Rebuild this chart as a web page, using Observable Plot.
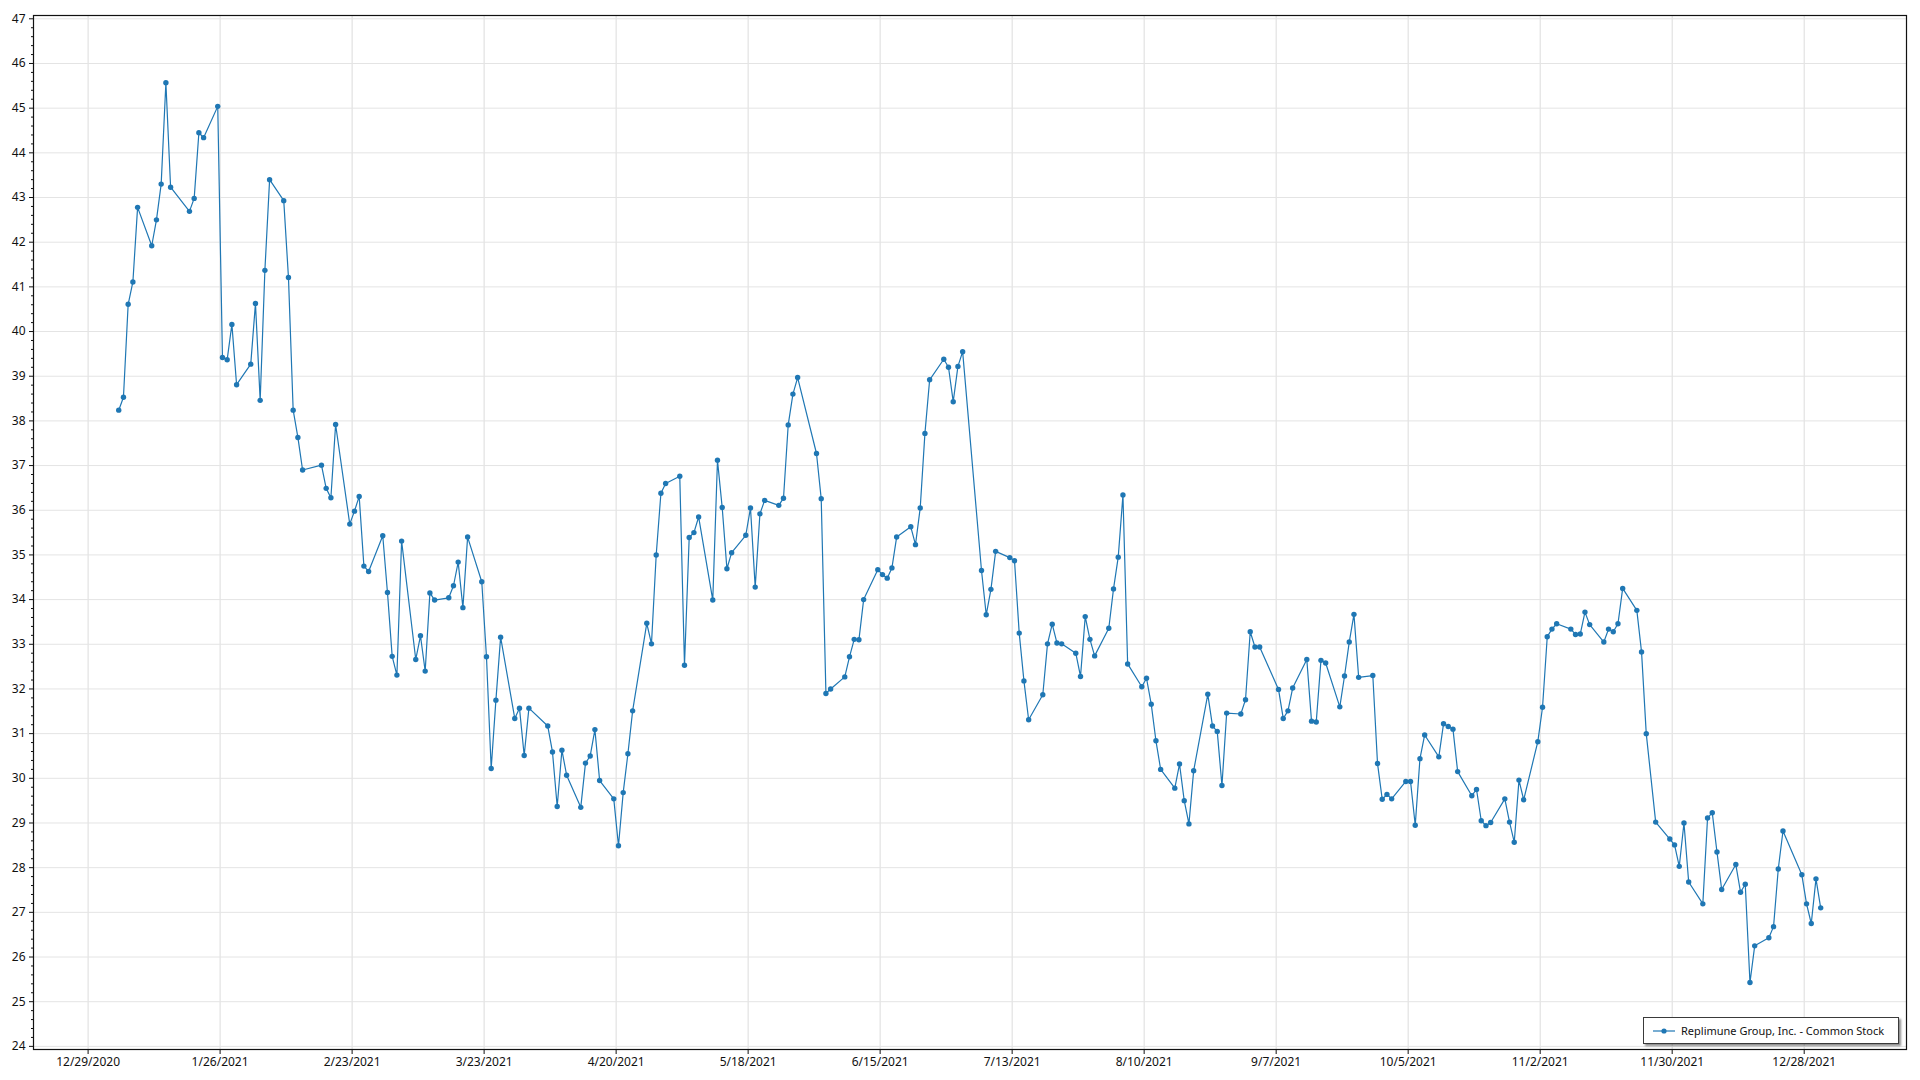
<!DOCTYPE html>
<html><head><meta charset="utf-8">
<script src="https://cdn.jsdelivr.net/npm/d3@7"></script>
<script src="https://cdn.jsdelivr.net/npm/@observablehq/plot@0.6"></script>
<style>
html,body{margin:0;padding:0;background:#fff;}
#wrap{position:relative;width:1920px;height:1080px;overflow:hidden;}
#legend{position:absolute;left:1643px;top:1017px;width:256px;height:27px;border:1px solid #3a3a3a;background:#fff;box-shadow:2px 2px 2px rgba(0,0,0,0.45);font:11px "Noto Sans",sans-serif;color:#111;display:flex;align-items:center;box-sizing:border-box;white-space:nowrap;}
#legend svg{margin-left:9px;margin-right:6px;flex:none;}
</style></head><body><div id="wrap"></div>
<script>
const seriesName = "Replimune Group, Inc. - Common Stock";
const dates = [
"1/4/2021","1/5/2021","1/6/2021","1/7/2021","1/8/2021","1/11/2021","1/12/2021","1/13/2021","1/14/2021","1/15/2021",
"1/19/2021","1/20/2021","1/21/2021","1/22/2021","1/25/2021","1/26/2021","1/27/2021","1/28/2021","1/29/2021",
"2/1/2021","2/2/2021","2/3/2021","2/4/2021","2/5/2021","2/8/2021","2/9/2021","2/10/2021","2/11/2021","2/12/2021",
"2/16/2021","2/17/2021","2/18/2021","2/19/2021","2/22/2021","2/23/2021","2/24/2021","2/25/2021","2/26/2021",
"3/1/2021","3/2/2021","3/3/2021","3/4/2021","3/5/2021","3/8/2021","3/9/2021","3/10/2021","3/11/2021","3/12/2021",
"3/15/2021","3/16/2021","3/17/2021","3/18/2021","3/19/2021","3/22/2021","3/23/2021","3/24/2021","3/25/2021","3/26/2021",
"3/29/2021","3/30/2021","3/31/2021","4/1/2021","4/5/2021","4/6/2021","4/7/2021","4/8/2021","4/9/2021",
"4/12/2021","4/13/2021","4/14/2021","4/15/2021","4/16/2021","4/19/2021","4/20/2021","4/21/2021","4/22/2021","4/23/2021",
"4/26/2021","4/27/2021","4/28/2021","4/29/2021","4/30/2021","5/3/2021","5/4/2021","5/5/2021","5/6/2021","5/7/2021",
"5/10/2021","5/11/2021","5/12/2021","5/13/2021","5/14/2021","5/17/2021","5/18/2021","5/19/2021","5/20/2021","5/21/2021",
"5/24/2021","5/25/2021","5/26/2021","5/27/2021","5/28/2021","6/1/2021","6/2/2021","6/3/2021","6/4/2021",
"6/7/2021","6/8/2021","6/9/2021","6/10/2021","6/11/2021","6/14/2021","6/15/2021","6/16/2021","6/17/2021","6/18/2021",
"6/21/2021","6/22/2021","6/23/2021","6/24/2021","6/25/2021","6/28/2021","6/29/2021","6/30/2021","7/1/2021","7/2/2021",
"7/6/2021","7/7/2021","7/8/2021","7/9/2021","7/12/2021","7/13/2021","7/14/2021","7/15/2021","7/16/2021",
"7/19/2021","7/20/2021","7/21/2021","7/22/2021","7/23/2021","7/26/2021","7/27/2021","7/28/2021","7/29/2021","7/30/2021",
"8/2/2021","8/3/2021","8/4/2021","8/5/2021","8/6/2021","8/9/2021","8/10/2021","8/11/2021","8/12/2021","8/13/2021",
"8/16/2021","8/17/2021","8/18/2021","8/19/2021","8/20/2021","8/23/2021","8/24/2021","8/25/2021","8/26/2021","8/27/2021",
"8/30/2021","8/31/2021","9/1/2021","9/2/2021","9/3/2021","9/7/2021","9/8/2021","9/9/2021","9/10/2021",
"9/13/2021","9/14/2021","9/15/2021","9/16/2021","9/17/2021","9/20/2021","9/21/2021","9/22/2021","9/23/2021","9/24/2021",
"9/27/2021","9/28/2021","9/29/2021","9/30/2021","10/1/2021","10/4/2021","10/5/2021","10/6/2021","10/7/2021","10/8/2021",
"10/11/2021","10/12/2021","10/13/2021","10/14/2021","10/15/2021","10/18/2021","10/19/2021","10/20/2021","10/21/2021","10/22/2021",
"10/25/2021","10/26/2021","10/27/2021","10/28/2021","10/29/2021","11/1/2021","11/2/2021","11/3/2021","11/4/2021","11/5/2021",
"11/8/2021","11/9/2021","11/10/2021","11/11/2021","11/12/2021","11/15/2021","11/16/2021","11/17/2021","11/18/2021","11/19/2021",
"11/22/2021","11/23/2021","11/24/2021","11/26/2021","11/29/2021","11/30/2021","12/1/2021","12/2/2021","12/3/2021",
"12/6/2021","12/7/2021","12/8/2021","12/9/2021","12/10/2021","12/13/2021","12/14/2021","12/15/2021","12/16/2021","12/17/2021",
"12/20/2021","12/21/2021","12/22/2021","12/23/2021","12/27/2021","12/28/2021","12/29/2021","12/30/2021","12/31/2021"
];
const prices = [
38.24,38.53,40.61,41.11,42.78,41.92,42.50,43.30,45.57,43.23,
42.69,42.98,44.45,44.34,45.04,39.42,39.37,40.16,38.81,
39.27,40.63,38.46,41.37,43.40,42.93,41.21,38.24,37.63,36.90,
37.01,36.49,36.28,37.92,35.69,35.98,36.31,34.75,34.63,
35.43,34.16,32.73,32.31,35.31,32.66,33.19,32.40,34.15,33.99,
34.04,34.31,34.84,33.82,35.40,34.40,32.72,30.22,31.75,33.16,
31.34,31.57,30.51,31.57,31.17,30.59,29.37,30.63,30.07,
29.35,30.34,30.50,31.09,29.95,29.54,28.49,29.68,30.55,31.51,
33.47,33.01,35.00,36.38,36.60,36.76,32.53,35.39,35.50,35.85,
33.99,37.12,36.06,34.69,35.05,35.44,36.05,34.28,35.92,36.22,
36.11,36.27,37.91,38.60,38.97,37.27,36.26,31.90,32.00,
32.27,32.72,33.11,33.10,34.00,34.67,34.56,34.48,34.71,35.40,
35.63,35.23,36.05,37.72,38.92,39.38,39.20,38.43,39.22,39.55,
34.65,33.66,34.23,35.08,34.94,34.87,33.25,32.18,31.31,
31.87,33.01,33.45,33.03,33.01,32.80,32.28,33.62,33.11,32.74,
33.36,34.24,34.95,36.34,32.56,32.05,32.24,31.66,30.84,30.20,
29.78,30.32,29.50,28.98,30.17,31.88,31.17,31.05,29.84,31.46,
31.44,31.76,33.28,32.94,32.94,31.99,31.34,31.51,32.02,
32.66,31.28,31.26,32.64,32.58,31.60,32.29,33.05,33.67,32.26,
32.30,30.33,29.53,29.64,29.54,29.93,29.93,28.95,30.44,30.97,
30.48,31.22,31.16,31.10,30.15,29.61,29.75,29.05,28.94,29.01,
29.54,29.02,28.57,29.96,29.52,30.82,31.59,33.17,33.34,33.46,
33.34,33.22,33.23,33.72,33.44,33.05,33.34,33.28,33.46,34.25,
33.76,32.83,31.00,29.02,28.64,28.51,28.03,29.00,27.68,
27.19,29.11,29.23,28.35,27.51,28.07,27.45,27.63,25.43,26.25,
26.43,26.68,27.97,28.82,27.84,27.19,26.75,27.75,27.10
];
const xTickLabels = ["12/29/2020","1/26/2021","2/23/2021","3/23/2021","4/20/2021","5/18/2021","6/15/2021","7/13/2021","8/10/2021","9/7/2021","10/5/2021","11/2/2021","11/30/2021","12/28/2021"];
const yTicks = [24,25,26,27,28,29,30,31,32,33,34,35,36,37,38,39,40,41,42,43,44,45,46,47];

const DAY = 864e5;
function parseMDY(s, hour = 0) {
  const [m, d, y] = s.split("/").map(Number);
  return new Date(Date.UTC(y, m - 1, d, hour));
}
const data = dates.map((s, i) => ({date: parseMDY(s, 12), price: prices[i]}));
const xTicks = xTickLabels.map(s => parseMDY(s));
const fmt = d => `${d.getUTCMonth() + 1}/${d.getUTCDate()}/${d.getUTCFullYear()}`;
const x0 = xTicks[0].getTime();
const xDomain = [new Date(x0 - 11.58 * DAY), new Date(x0 + 385.7 * DAY)];
const minorY = d3.range(24, 47.01, 0.2).map(v => +v.toFixed(1)).filter(v => Math.abs(v - Math.round(v)) > 1e-6);

const color = "#1f77b4";
const chart = Plot.plot({
  width: 1920,
  height: 1080,
  marginLeft: 33,
  marginRight: 14,
  marginTop: 15,
  marginBottom: 31,
  style: {fontFamily: '"Segoe UI","Noto Sans",sans-serif', fontSize: "12px", color: "#111", background: "#fff"},
  x: {type: "utc", domain: xDomain, label: null},
  y: {domain: [23.93, 47.074], label: null},
  marks: [
    Plot.gridX(xTicks, {stroke: "#dcdcdc", strokeOpacity: 1}),
    Plot.gridY(yTicks, {stroke: "#e4e4e4", strokeOpacity: 1}),
    Plot.axisX(xTicks, {tickFormat: fmt, tickSize: 5, tickPadding: 3, stroke: "#111", fontSize: 12}),
    Plot.axisY(yTicks, {tickFormat: d => d, tickSize: 4, tickPadding: 4, stroke: "#111", fontSize: 12}),
    Plot.axisY(minorY, {tickFormat: () => "", tickSize: 2, stroke: "#111"}),
    Plot.line(data, {x: "date", y: "price", stroke: color, strokeWidth: 1.2}),
    Plot.dot(data, {x: "date", y: "price", r: 2.7, fill: color, stroke: "none"}),
    Plot.frame({stroke: "#111", strokeWidth: 1.2})
  ]
});
const wrap = document.getElementById("wrap");
wrap.appendChild(chart);
const legend = document.createElement("div");
legend.id = "legend";
legend.innerHTML = `<svg width="22" height="8"><line x1="0" y1="4" x2="22" y2="4" stroke="${color}" stroke-width="1.2"/><circle cx="11" cy="4" r="2.6" fill="${color}"/></svg><span>${seriesName}</span>`;
wrap.appendChild(legend);
</script>
</body></html>
